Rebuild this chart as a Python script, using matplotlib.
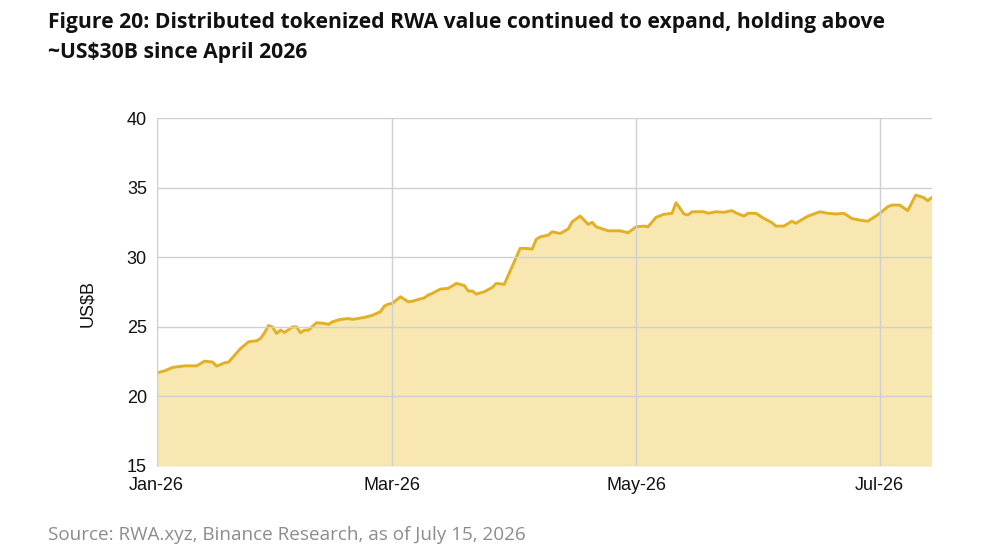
import matplotlib
matplotlib.use("Agg")
import matplotlib.pyplot as plt
import matplotlib.dates as mdates
import pandas as pd

# Данные: значение распределённых токенизированных RWA, млрд долларов
dates = [
    "2026-01-01", "2026-01-03", "2026-01-05", "2026-01-08", "2026-01-11",
    "2026-01-13", "2026-01-15", "2026-01-16", "2026-01-18", "2026-01-19",
    "2026-01-20", "2026-01-22", "2026-01-24", "2026-01-26", "2026-01-27",
    "2026-01-28", "2026-01-29", "2026-01-30", "2026-01-31", "2026-02-01",
    "2026-02-02", "2026-02-04", "2026-02-05", "2026-02-06", "2026-02-07",
    "2026-02-08", "2026-02-10", "2026-02-12", "2026-02-13", "2026-02-14",
    "2026-02-16", "2026-02-18", "2026-02-19", "2026-02-22", "2026-02-24",
    "2026-02-26", "2026-02-27", "2026-02-28", "2026-03-01", "2026-03-03",
    "2026-03-05", "2026-03-06", "2026-03-09", "2026-03-10", "2026-03-11",
    "2026-03-13", "2026-03-15", "2026-03-17", "2026-03-19", "2026-03-20",
    "2026-03-21", "2026-03-22", "2026-03-24", "2026-03-26", "2026-03-27",
    "2026-03-29", "2026-04-02", "2026-04-03", "2026-04-05", "2026-04-06",
    "2026-04-07", "2026-04-09", "2026-04-10", "2026-04-12", "2026-04-14",
    "2026-04-15", "2026-04-17", "2026-04-18", "2026-04-19", "2026-04-20",
    "2026-04-21", "2026-04-24", "2026-04-27", "2026-04-29", "2026-05-01",
    "2026-05-03", "2026-05-04", "2026-05-06", "2026-05-08", "2026-05-10",
    "2026-05-11", "2026-05-13", "2026-05-14", "2026-05-15", "2026-05-18",
    "2026-05-19", "2026-05-21", "2026-05-23", "2026-05-25", "2026-05-26",
    "2026-05-28", "2026-05-29", "2026-05-31", "2026-06-02", "2026-06-04",
    "2026-06-05", "2026-06-07", "2026-06-09", "2026-06-10", "2026-06-12",
    "2026-06-13", "2026-06-16", "2026-06-18", "2026-06-20", "2026-06-22",
    "2026-06-24", "2026-06-26", "2026-06-28", "2026-06-30", "2026-07-01",
    "2026-07-03", "2026-07-04", "2026-07-06", "2026-07-08", "2026-07-10",
    "2026-07-12", "2026-07-13", "2026-07-14",
]
values = [
    21.70, 21.84, 22.09, 22.20, 22.20,
    22.54, 22.47, 22.18, 22.42, 22.47,
    22.80, 23.45, 23.93, 24.00, 24.17,
    24.58, 25.10, 25.00, 24.53, 24.77,
    24.60, 25.00, 25.00, 24.58, 24.77,
    24.77, 25.30, 25.25, 25.18, 25.37,
    25.54, 25.60, 25.54, 25.68, 25.84,
    26.09, 26.50, 26.64, 26.69, 27.17,
    26.80, 26.85, 27.09, 27.30, 27.41,
    27.72, 27.77, 28.13, 27.98, 27.58,
    27.58, 27.36, 27.53, 27.84, 28.13,
    28.06, 30.65, 30.65, 30.60, 31.30,
    31.47, 31.60, 31.84, 31.72, 32.04,
    32.56, 32.97, 32.68, 32.37, 32.52,
    32.20, 31.91, 31.91, 31.77, 32.20,
    32.25, 32.20, 32.88, 33.10, 33.17,
    33.93, 33.12, 33.05, 33.28, 33.28,
    33.17, 33.28, 33.24, 33.36, 33.20,
    32.97, 33.17, 33.17, 32.80, 32.50,
    32.25, 32.25, 32.60, 32.45, 32.80,
    32.96, 33.28, 33.17, 33.12, 33.17,
    32.80, 32.68, 32.60, 32.97, 33.17,
    33.64, 33.76, 33.76, 33.36, 34.48,
    34.30, 34.07, 34.30,
]
x_ticks = ["2026-01-01", "2026-03-01", "2026-05-01", "2026-07-01"]
y_ticks = [15, 20, 25, 30, 35, 40]

title = ("Figure 20: Distributed tokenized RWA value continued to expand, holding above\n"
         "~US$30B since April 2026")
source = "Source: RWA.xyz, Binance Research, as of July 15, 2026"

x = pd.to_datetime(dates)

fig = plt.figure(figsize=(9.83, 5.51), dpi=100)
ax = fig.add_axes([0.1594, 0.1543, 0.7884, 0.631])

ax.fill_between(x, values, 15, color="#F8E7B0", linewidth=0)
ax.plot(x, values, color="#E2B024", linewidth=2.1)

ax.set_xlim(pd.Timestamp("2026-01-01"), pd.Timestamp("2026-07-14"))
ax.set_ylim(15, 40)
ax.set_yticks(y_ticks)
ax.set_xticks(pd.to_datetime(x_ticks))
ax.xaxis.set_major_formatter(mdates.DateFormatter("%b-%y"))

ax.grid(True, color="#d0d0d0", linewidth=1)
ax.set_axisbelow(False)
for side in ["top", "right", "bottom"]:
    ax.spines[side].set_visible(False)
ax.spines["left"].set_color("#d0d0d0")
ax.tick_params(length=0, labelsize=13, colors="#111111", labelfontfamily="Liberation Sans")
ax.tick_params(axis="y", pad=7)
ax.tick_params(axis="x", pad=8)

fig.text(0.089, 0.45, "US$B", rotation=90, ha="center", va="center",
         fontsize=13, family="Liberation Sans", color="#111111")

fig.text(0.049, 0.978, title, ha="left", va="top", fontsize=15.2, fontweight="bold",
         family="Open Sans", color="#111111", linespacing=1.55)
fig.text(0.049, 0.029, source, ha="left", va="center", fontsize=13.6,
         family="Open Sans", color="#8c8c8c")

plt.savefig("out.png", dpi=100)
